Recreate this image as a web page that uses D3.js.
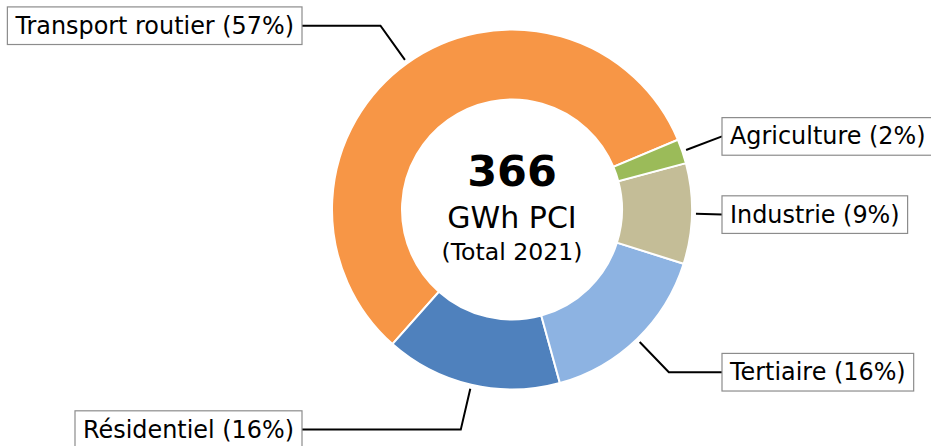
<!DOCTYPE html>
<html><head><meta charset="utf-8">
<script src="https://cdn.jsdelivr.net/npm/d3@7"></script>
<style>body{margin:0;background:#fff}svg{display:block}text{font-family:"DejaVu Sans",sans-serif}</style>
</head><body>
<script>
const categories = ["Transport routier", "Résidentiel", "Tertiaire", "Industrie", "Agriculture"];
const values = [209, 58, 58, 33, 8];
const colors = ["#F79646", "#4F81BD", "#8DB3E2", "#C4BD97", "#9BBB59"];
const totalLabel = "366";
const unitLabel = "GWh PCI";
const yearLabel = "(Total 2021)";

const W = 931, H = 446;
const cx = 512, cy = 209.5, R = 180, r0 = 110;
const svg = d3.select("body").append("svg").attr("width", W).attr("height", H);
const g = svg.append("g").attr("transform", `translate(${cx},${cy})`);

const total = d3.sum(values);
const start = (90 - 22.8) * Math.PI / 180;
const pie = d3.pie().sort(null).startAngle(start).endAngle(start - 2 * Math.PI);
const arcs = pie(values);
const arc = d3.arc().innerRadius(r0).outerRadius(R);

g.selectAll("path.slice").data(arcs).join("path")
  .attr("class", "slice")
  .attr("d", arc)
  .attr("fill", (d, i) => colors[i])
  .attr("stroke", "#fff").attr("stroke-width", 2);

// center text
g.append("text").attr("text-anchor", "middle").attr("y", 185.5 - cy)
  .style("font-size", "43px").style("font-weight", "bold").text(totalLabel);
g.append("text").attr("text-anchor", "middle").attr("y", 227.5 - cy)
  .style("font-size", "30px").text(unitLabel);
g.append("text").attr("text-anchor", "middle").attr("y", 260 - cy)
  .style("font-size", "23.6px").text(yearLabel);

// labels
const fs = 23.9, padX = 8, halfH = 18.8;
arcs.forEach((d, i) => {
  const a = (d.startAngle + d.endAngle) / 2; // d3 angle, 0 at top, clockwise
  const dx = Math.sin(a), dy = -Math.cos(a);
  const side = dx >= 0 ? 1 : -1;
  const ex = dx * 184, ey = dy * 184;
  const lx = side * 218, ly = dy * 226;
  const pct = Math.round(values[i] / total * 100);
  const t = g.append("text").attr("x", lx).attr("y", ly)
    .attr("dominant-baseline", "central")
    .attr("text-anchor", side > 0 ? "start" : "end")
    .style("font-size", fs + "px")
    .text(`${categories[i]} (${pct}%)`);
  const tw = t.node().getComputedTextLength();
  const bx = side > 0 ? lx - padX : lx - tw - padX;
  const bw = tw + 2 * padX;
  g.insert("rect", "text").attr("x", bx).attr("y", ly - halfH).attr("width", bw).attr("height", 2 * halfH)
    .attr("fill", "#fff").attr("stroke", "#8c8c8c").attr("stroke-width", 1.2);
  const edgeX = side > 0 ? bx : bx + bw;
  let cxr;
  if (Math.abs(dy) > 1e-6) {
    const tt = (ly - ey) / dy;
    cxr = ex + dx * tt;
  } else cxr = edgeX;
  if (side > 0) cxr = Math.min(cxr, edgeX); else cxr = Math.max(cxr, edgeX);
  g.insert("path", "rect").attr("d", d3.line()([[ex, ey], [cxr, ly], [edgeX, ly]]))
    .attr("fill", "none").attr("stroke", "#000").attr("stroke-width", 2);
});
</script>
</body></html>
